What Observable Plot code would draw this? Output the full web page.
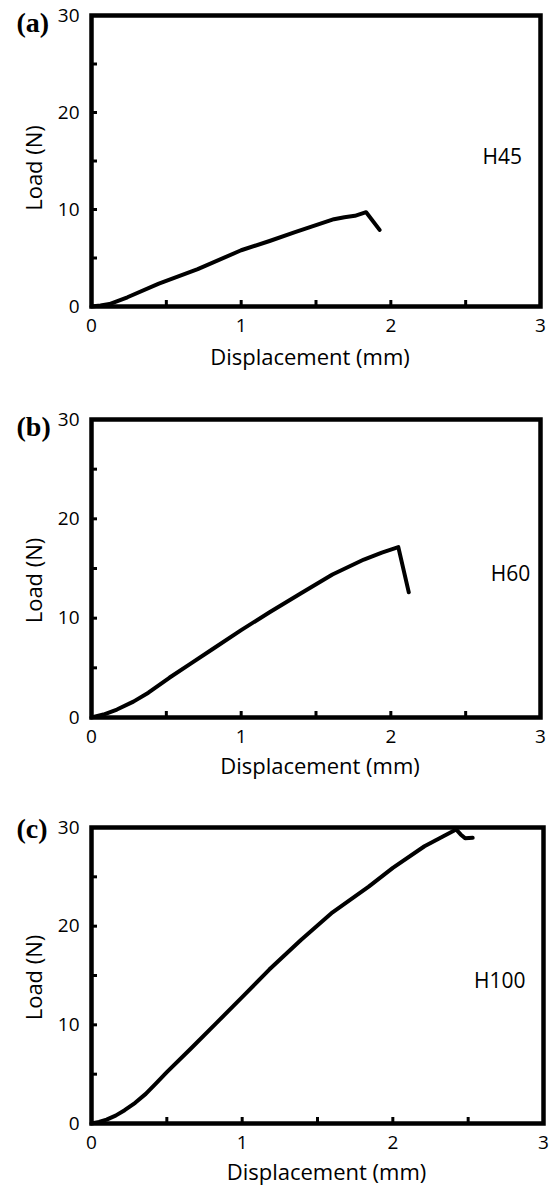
<!DOCTYPE html>
<html>
<head>
<meta charset="utf-8">
<script src="https://cdn.jsdelivr.net/npm/d3@7"></script>
<script src="https://cdn.jsdelivr.net/npm/@observablehq/plot@0.6"></script>
<style>
  html, body { margin: 0; padding: 0; background: white; overflow: hidden; }
  #chart svg { display: block; }
</style>
</head>
<body>
<div id="chart"></div>
<script>
// ---- data ----
const h45X = [0, 0.06, 0.12, 0.24, 0.45, 0.71, 1.0, 1.19, 1.36, 1.51, 1.62, 1.69, 1.76, 1.835, 1.925];
const h45Y = [0, 0.1, 0.25, 0.95, 2.35, 3.85, 5.8, 6.75, 7.66, 8.45, 9.0, 9.2, 9.35, 9.72, 7.9];

const h60X = [0, 0.08, 0.17, 0.28, 0.38, 0.52, 0.66, 0.81, 1.0, 1.19, 1.40, 1.61, 1.82, 1.94, 2.05, 2.12];
const h60Y = [0, 0.3, 0.8, 1.6, 2.5, 4.0, 5.4, 6.9, 8.8, 10.6, 12.5, 14.4, 15.9, 16.6, 17.15, 12.6];

const h100X = [0, 0.05, 0.1, 0.16, 0.22, 0.29, 0.36, 0.43, 0.50, 0.66, 0.83, 1.0, 1.18, 1.39, 1.60, 1.84, 2.0, 2.21, 2.42, 2.45, 2.48, 2.53];
const h100Y = [0, 0.15, 0.4, 0.8, 1.35, 2.1, 3.0, 4.1, 5.2, 7.6, 10.2, 12.8, 15.6, 18.6, 21.4, 24.0, 25.9, 28.1, 29.8, 29.3, 28.9, 28.95];

const seriesNames = ["H45", "H60", "H100"];
const panelTags = ["(a)", "(b)", "(c)"];
const xTickLabels = [0, 1, 2, 3];
const yTickLabels = [0, 10, 20, 30];
const xTickMarks = [0.5, 1, 1.5, 2, 2.5];
const yTickMarks = [5, 10, 15, 20, 25];
const xLabel = "Displacement (mm)";
const yLabel = "Load (N)";
const nameX = [2.745, 2.80, 2.71];
const nameY = [15.36, 14.4, 14.4];

// ---- layout (pixels) ----
const layout = [
  {height: 380, top: 15, bottom: 74, right: 14, tagDy: 8, yLabDy: 7, xLabDx: -6, xLabDy: 51},
  {height: 405, top: 39, bottom: 68, right: 14, tagDy: 7.5, yLabDy: 12, xLabDx: 4, xLabDy: 49},
  {height: 401, top: 42, bottom: 63, right: 11, tagDy: 2, yLabDy: 2, xLabDx: 9, xLabDy: 49}
];
const seriesX = [h45X, h60X, h100X];
const seriesY = [h45Y, h60Y, h100Y];

const font = "'Open Sans', sans-serif";
const chart = document.getElementById("chart");

seriesNames.forEach((name, i) => {
  const L = layout[i];
  const pts = seriesX[i].map((x, j) => ({x, y: seriesY[i][j]}));
  const svg = Plot.plot({
    width: 554,
    height: L.height,
    marginTop: L.top,
    marginBottom: L.bottom,
    marginLeft: 91,
    marginRight: L.right,
    x: {domain: [0, 3]},
    y: {domain: [0, 30]},
    style: {fontFamily: font, background: "white", color: "black"},
    marks: [
      Plot.axisY(yTickLabels, {tickSize: 0, tickPadding: 12, fontSize: 19, label: null, tickFormat: d => d}),
      Plot.axisX(xTickLabels, {tickSize: 0, tickPadding: 12, fontSize: 19, label: null, tickFormat: d => d}),
      Plot.axisY(yTickMarks, {tickSize: 6, dx: 6, text: null, strokeWidth: 3, label: null}),
      Plot.axisX(xTickMarks, {tickSize: 6, dy: -6, text: null, strokeWidth: 3, label: null}),
      Plot.frame({strokeWidth: 4.5}),
      Plot.line(pts, {x: "x", y: "y", strokeWidth: 4, strokeLinejoin: "round", strokeLinecap: "round"}),
      Plot.text([name], {x: () => nameX[i], y: () => nameY[i], text: d => d, fontSize: 21}),
      Plot.text([panelTags[i]], {frameAnchor: "top-left", dx: -75, dy: L.tagDy, textAnchor: "start", lineAnchor: "middle",
        text: d => d, fontFamily: "'Liberation Serif', serif", fontWeight: "bold", fontSize: 28}),
      Plot.text([yLabel], {frameAnchor: "left", dx: -57, dy: L.yLabDy, rotate: -90, textAnchor: "middle", lineAnchor: "middle", text: d => d, fontSize: 22}),
      Plot.text([xLabel], {frameAnchor: "bottom", dx: L.xLabDx, dy: L.xLabDy, textAnchor: "middle", lineAnchor: "middle", text: d => d, fontSize: 22})
    ]
  });
  chart.appendChild(svg);
});
</script>
</body>
</html>
